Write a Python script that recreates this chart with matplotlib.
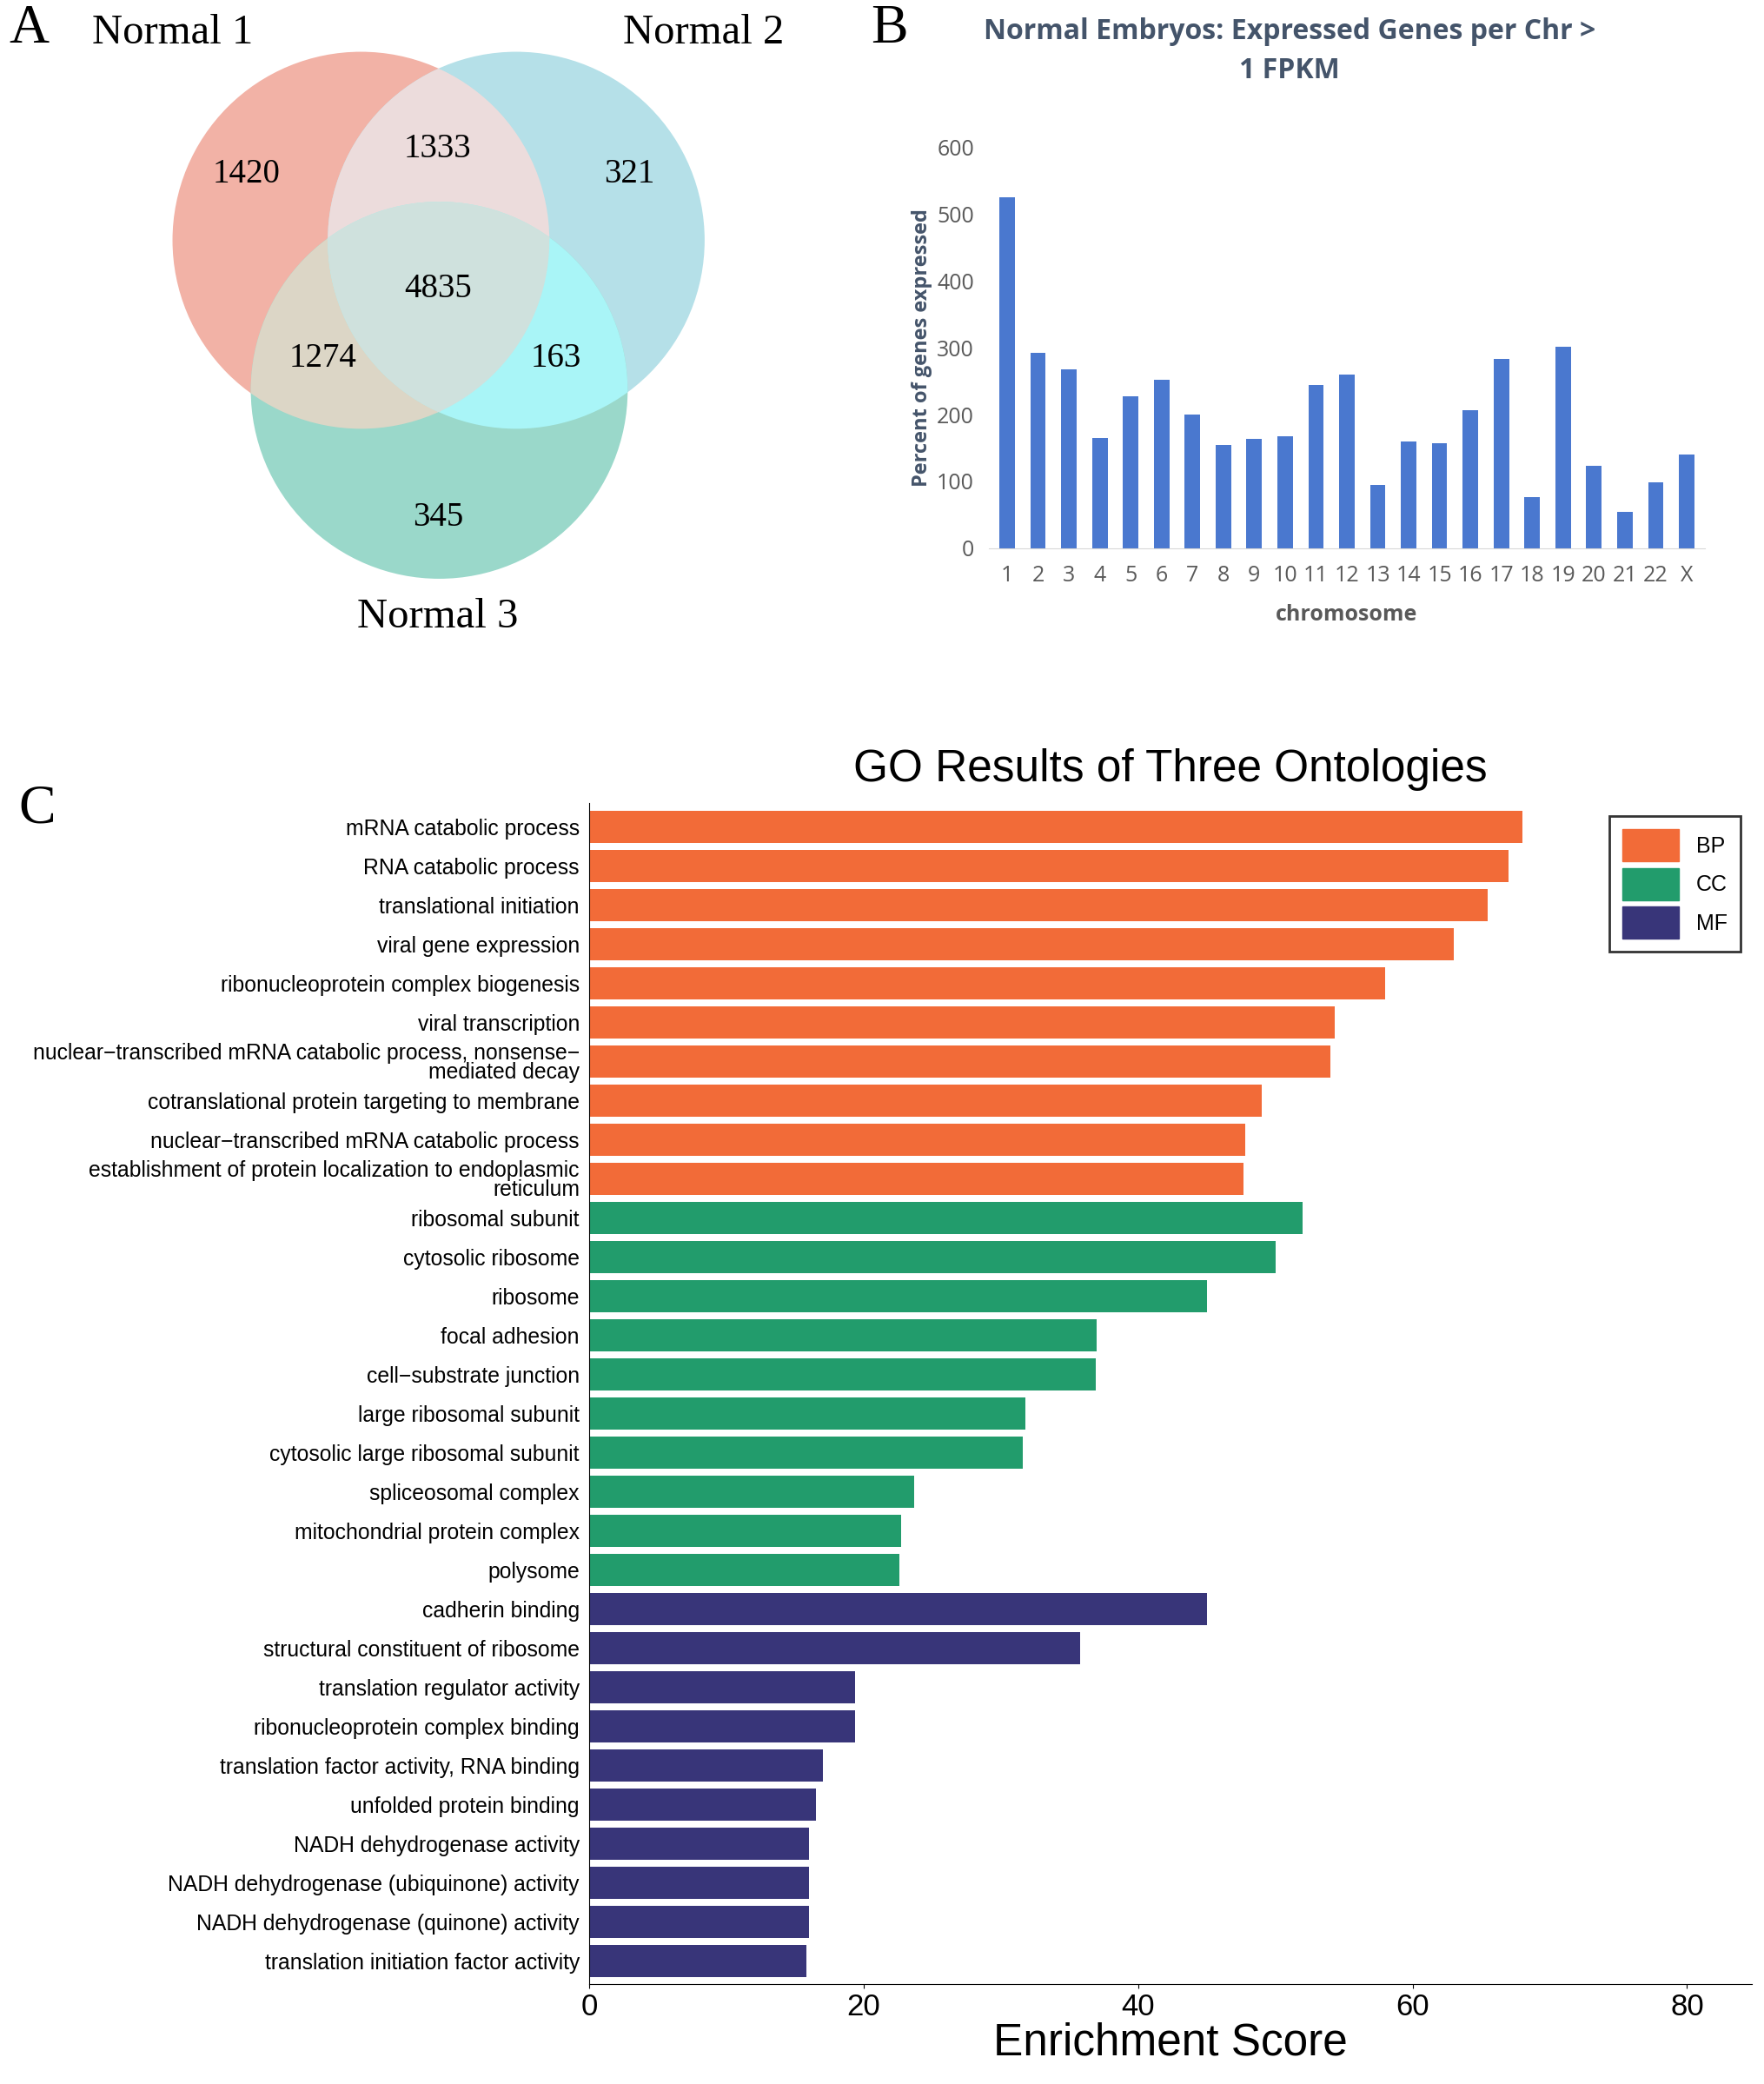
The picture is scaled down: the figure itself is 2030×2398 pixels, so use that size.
import matplotlib
matplotlib.use("Agg")
import numpy as np
import matplotlib.pyplot as plt
from matplotlib.patches import Circle, Patch, Polygon

venn_labels = ["Normal 1", "Normal 2", "Normal 3"]
venn_counts = {"1": 1420, "2": 321, "3": 345, "12": 1333, "13": 1274, "23": 163, "123": 4835}

chroms = [str(i) for i in range(1, 23)] + ["X"]
chrom_vals = [525, 293, 268, 165, 227, 252, 200, 155, 163, 168, 244, 260, 95, 160, 157, 206, 283, 77, 302, 123, 55, 98, 140]

go_terms = ["mRNA catabolic process", "RNA catabolic process", "translational initiation",
    "viral gene expression", "ribonucleoprotein complex biogenesis", "viral transcription",
    "nuclear\u2212transcribed mRNA catabolic process, nonsense\u2212\nmediated decay",
    "cotranslational protein targeting to membrane", "nuclear\u2212transcribed mRNA catabolic process",
    "establishment of protein localization to endoplasmic\nreticulum",
    "ribosomal subunit", "cytosolic ribosome", "ribosome", "focal adhesion", "cell\u2212substrate junction",
    "large ribosomal subunit", "cytosolic large ribosomal subunit", "spliceosomal complex",
    "mitochondrial protein complex", "polysome",
    "cadherin binding", "structural constituent of ribosome", "translation regulator activity",
    "ribonucleoprotein complex binding", "translation factor activity, RNA binding",
    "unfolded protein binding", "NADH dehydrogenase activity", "NADH dehydrogenase (ubiquinone) activity",
    "NADH dehydrogenase (quinone) activity", "translation initiation factor activity"]
go_scores = [68, 67, 65.5, 63, 58, 54.3, 54, 49, 47.8, 47.7,
             52, 50, 45, 37, 36.9, 31.8, 31.6, 23.7, 22.7, 22.6,
             45, 35.8, 19.4, 19.4, 17, 16.5, 16, 16, 16, 15.8]
go_cats = ["BP"] * 10 + ["CC"] * 10 + ["MF"] * 10
cat_colors = {"BP": "#f26b38", "CC": "#229c6c", "MF": "#383579"}

W, H = 1330, 1570
fig = plt.figure(figsize=(20.31, 23.98), dpi=100)
sans = ["Liberation Sans", "DejaVu Sans"]
calib = ["Open Sans", "DejaVu Sans"]

# Panel A: Venn with region colours via clipping
ax = fig.add_axes([0, 0, 1, 1])
ax.set_xlim(0, W); ax.set_ylim(H, 0); ax.axis("off")
centers = [(272, 181), (389, 181), (331, 294)]
R = 142
base = ["#f2b2a6", "#b5e0e8", "#9ad8ca"]
for c, col in zip(centers, base):
    ax.add_patch(Circle(c, R, color=col, lw=0))
def inter(i, j, col):
    p = Circle(centers[i], R, color=col, lw=0)
    ax.add_patch(p)
    p.set_clip_path(Circle(centers[j], R, transform=ax.transData))
inter(0, 1, "#ecdcdc")
inter(0, 2, "#dcd6c6")
inter(1, 2, "#a9f5f7")
# triple region polygon
th = np.linspace(0, 2 * np.pi, 2000)
pts = []
for (cx, cy) in centers:
    px, py = cx + R * np.cos(th), cy + R * np.sin(th)
    ok = np.ones_like(px, bool)
    for (dx, dy) in centers:
        ok &= (px - dx) ** 2 + (py - dy) ** 2 <= R ** 2 + 1e-6 + 2 * R
    pts += list(zip(px[ok], py[ok]))
pts = np.array(pts)
m = pts.mean(axis=0)
pts = pts[np.argsort(np.arctan2(pts[:, 1] - m[1], pts[:, 0] - m[0]))]
ax.add_patch(Polygon(pts, closed=True, color="#cfe1dd", lw=0))
serif = "Liberation Serif"
for txt, (x, y) in zip(venn_labels, [(130, 25), (530, 25), (330, 465)]):
    ax.text(x, y, txt, fontsize=35, family=serif, ha="center", va="center")
pos = {"1": (186, 131), "2": (474, 131), "3": (330, 390), "12": (330, 112),
       "13": (243, 270), "23": (419, 270), "123": (330, 218)}
for k, (x, y) in pos.items():
    ax.text(x, y, str(venn_counts[k]), fontsize=28, family=serif, ha="center", va="center")
for t, (x, y) in zip("ABC", [(22, 22), (670, 22), (28, 610)]):
    ax.text(x, y, t, fontsize=46, family=serif, ha="center", va="center")

# Panel B
axb = fig.add_axes([745 / W, 1 - 413 / H, 540 / W, 302 / H])
axb.bar(range(len(chroms)), chrom_vals, width=0.5, color="#4a78cf")
axb.set_xlim(-0.6, len(chroms) - 0.4); axb.set_ylim(0, 600)
axb.set_xticks(range(len(chroms))); axb.set_xticklabels(chroms, family=calib)
axb.set_yticks(range(0, 601, 100)); axb.set_yticklabels(range(0, 601, 100), family=calib)
for s in ["top", "right", "left"]:
    axb.spines[s].set_visible(False)
axb.spines["bottom"].set_color("#d9d9d9")
axb.tick_params(length=0, labelsize=18, colors="#595959", pad=12)
axb.tick_params(axis="x", pad=14)
axb.set_ylabel("Percent of genes expressed", fontsize=17, fontweight="bold", color="#44546a", family=calib)
axb.set_xlabel("chromosome", fontsize=18, fontweight="bold", color="#595959", labelpad=14, family=calib)
axb.text(0.42, 1.24, "Normal Embryos: Expressed Genes per Chr >\n1 FPKM", transform=axb.transAxes,
         fontsize=23, fontweight="bold", color="#44546a", ha="center", va="center", family=calib,
         linespacing=1.5)

# Panel C
axc = fig.add_axes([444 / W, 1 - 1495 / H, 876 / W, 890 / H])
n = len(go_terms)
ys = list(range(n))[::-1]
axc.barh(ys, go_scores, height=0.82, color=[cat_colors[c] for c in go_cats])
axc.set_ylim(-0.6, n - 0.4); axc.set_xlim(0, 84.7)
axc.set_yticks(ys); axc.set_yticklabels(go_terms, fontsize=17.8, linespacing=0.9, family=sans)
axc.set_xticks([0, 20, 40, 60, 80]); axc.set_xticklabels([0, 20, 40, 60, 80], family=sans)
axc.tick_params(axis="x", labelsize=25)
axc.tick_params(axis="y", length=0, pad=8)
for s in ["top", "right"]:
    axc.spines[s].set_visible(False)
axc.set_xlabel("Enrichment Score", fontsize=37, labelpad=0, family=sans)
axc.set_title("GO Results of Three Ontologies", fontsize=37, pad=18, x=0.5, family=sans)
handles = [Patch(color=cat_colors[c], label=c) for c in ["BP", "CC", "MF"]]
leg = axc.legend(handles=handles, loc="upper right", bbox_to_anchor=(1.0, 0.998),
                 prop={"family": sans, "size": 18},
                 frameon=True, fancybox=False, edgecolor="black", handlelength=2.6, handleheight=1.9,
                 borderpad=0.6, labelspacing=0.3)
leg.get_frame().set_linewidth(2)

fig.savefig("out.png", dpi=100)
